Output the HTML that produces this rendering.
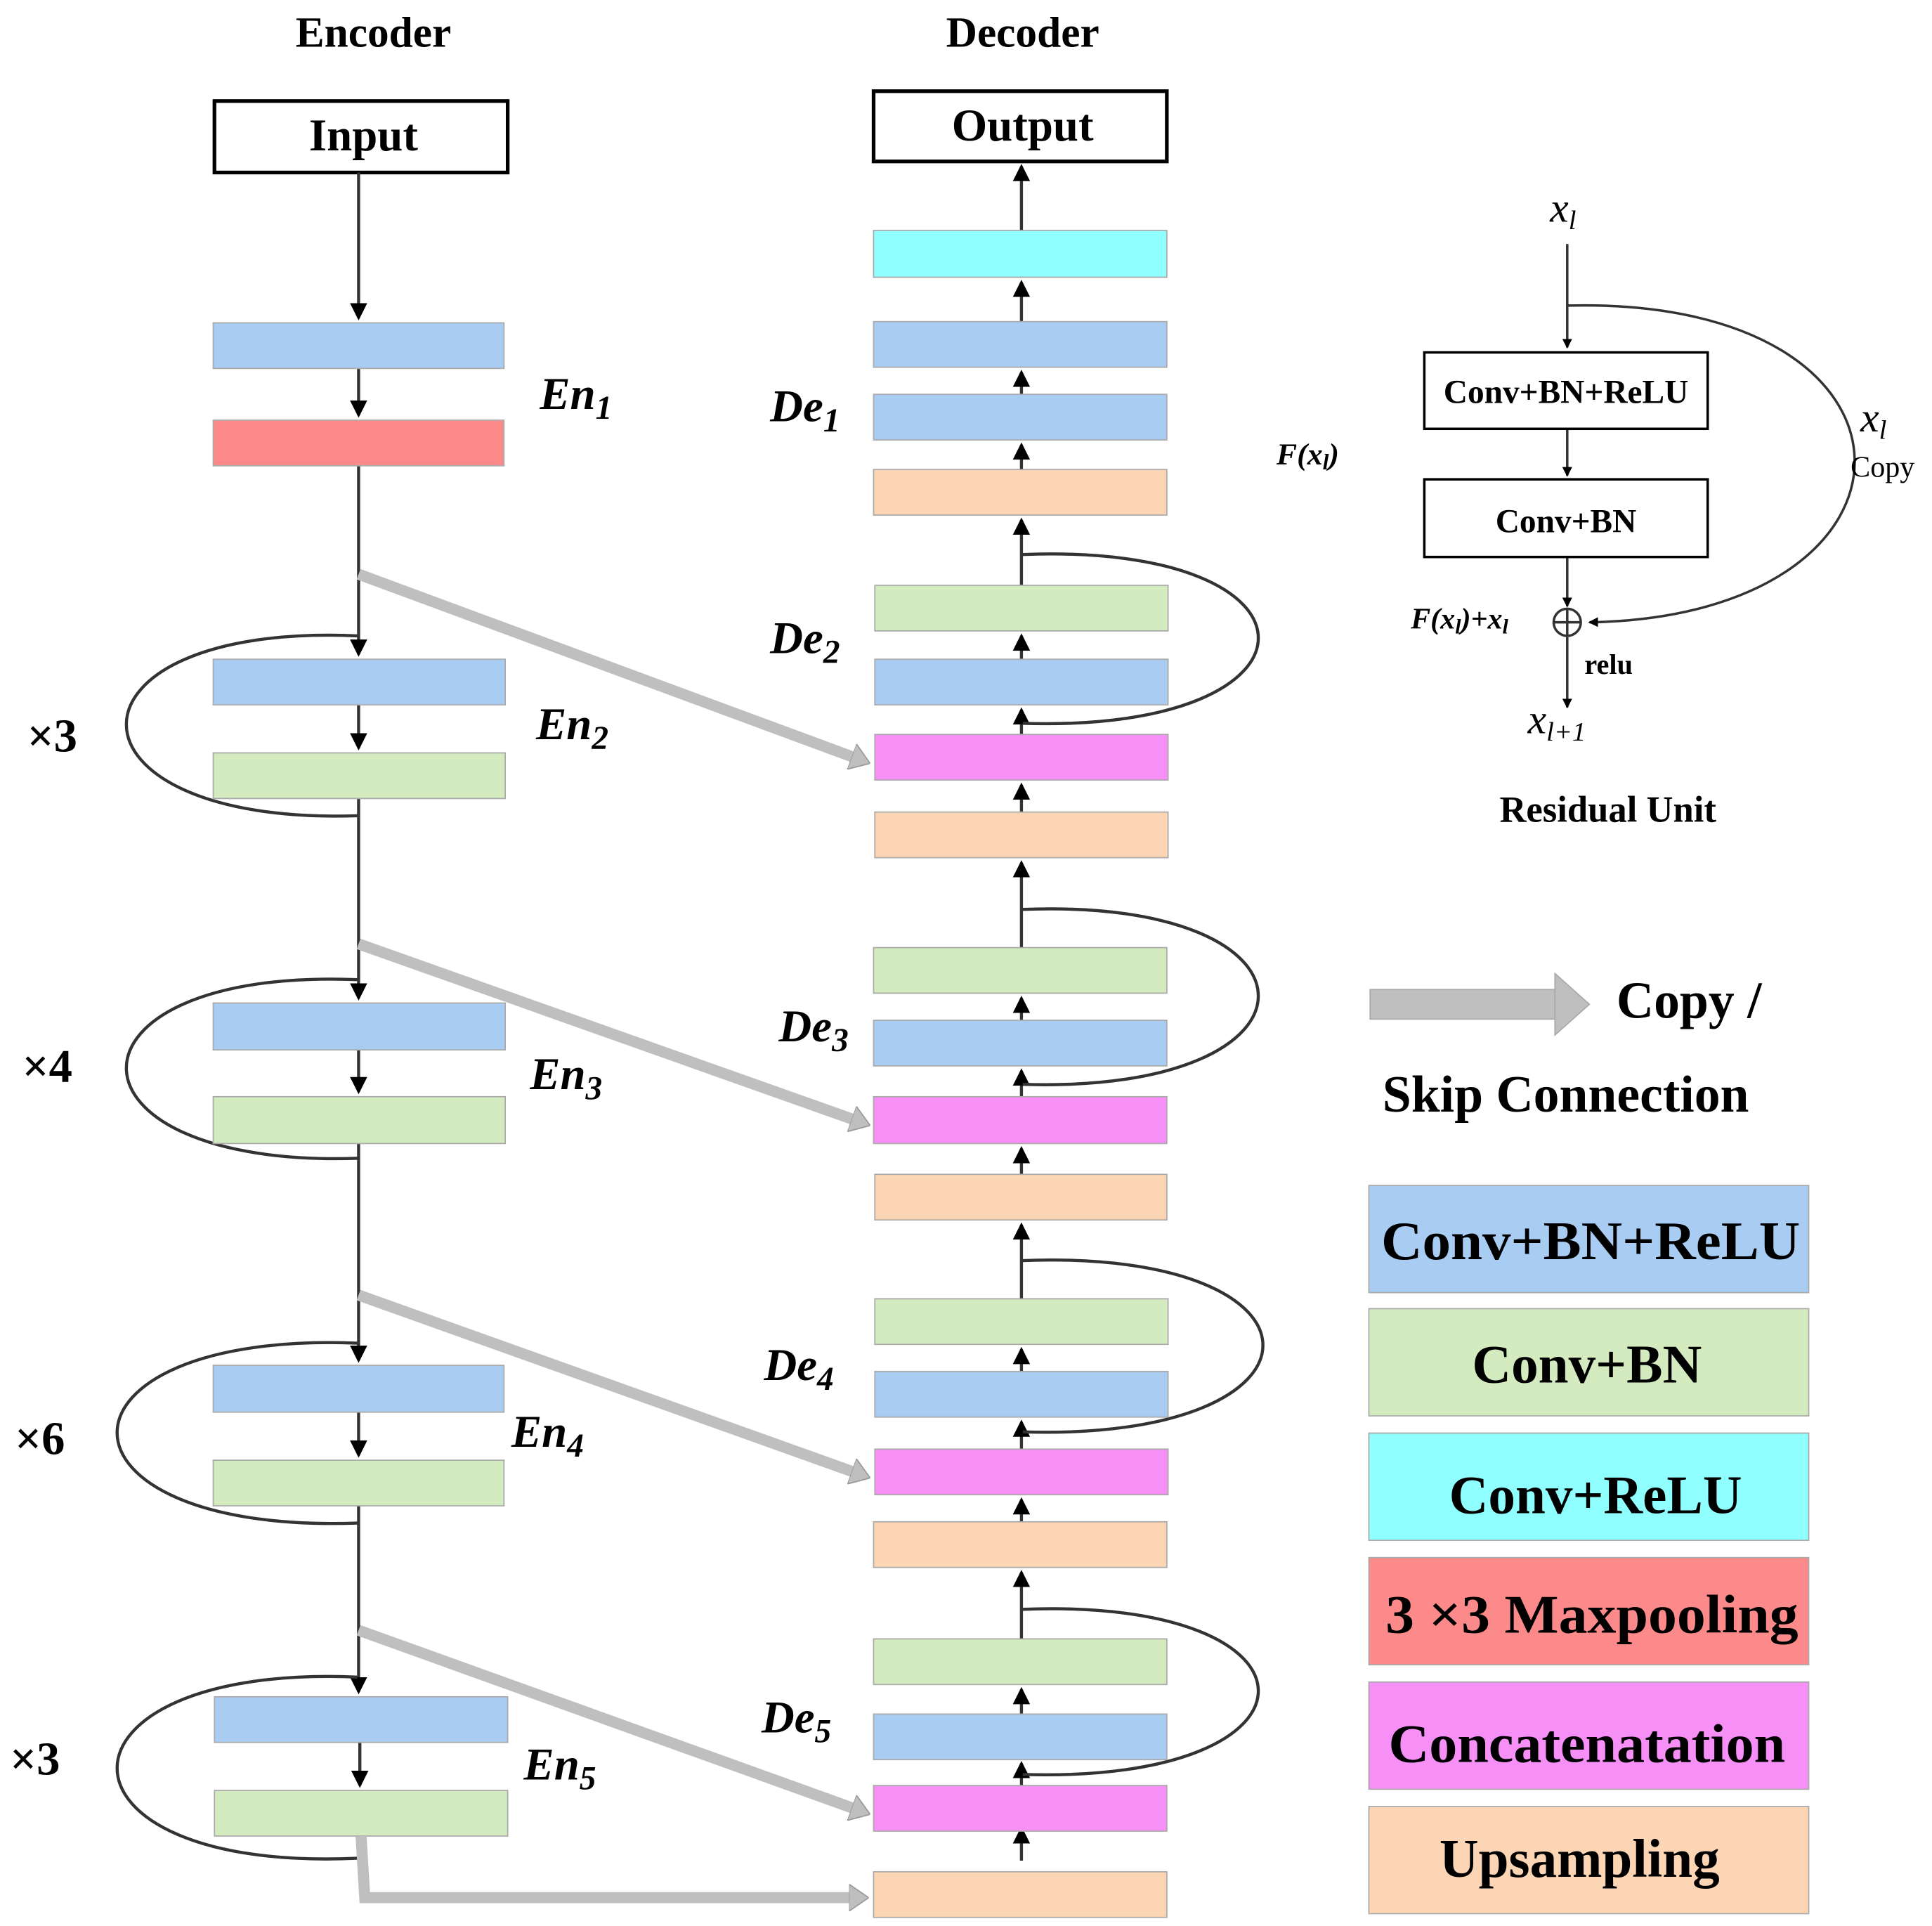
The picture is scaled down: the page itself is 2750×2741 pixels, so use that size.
<!DOCTYPE html>
<html><head><meta charset="utf-8"><style>html,body{margin:0;padding:0;background:#fff}svg{display:block}</style></head><body>
<svg width="2750" height="2741" viewBox="0 0 1568 1563" xmlns="http://www.w3.org/2000/svg" font-family="Liberation Serif, serif">
<defs>
<marker id="ah" markerWidth="8" markerHeight="8" refX="7" refY="4" orient="auto" markerUnits="userSpaceOnUse"><path d="M0,0 L8,4 L0,8 z" fill="#000"/></marker>
<marker id="ah2" markerWidth="14" markerHeight="14" refX="12" refY="7" orient="auto" markerUnits="userSpaceOnUse"><path d="M0,0 L14,7 L0,14 z" fill="#000"/></marker>
<marker id="gh" markerWidth="16" markerHeight="22" refX="3" refY="11" orient="auto" markerUnits="userSpaceOnUse"><path d="M0,0 L16,11 L0,22 z" fill="#bfbfbf" stroke="#999" stroke-width="1"/></marker>
</defs>
<g font-weight="bold" font-size="35" text-anchor="middle">
<text x="303" y="38">Encoder</text><text x="830" y="38">Decoder</text>
</g>
<rect x="174" y="82" width="238" height="58" fill="#fff" stroke="#000" stroke-width="3"/>
<text x="295" y="122" font-size="37" font-weight="bold" text-anchor="middle">Input</text>
<rect x="709" y="74" width="238" height="57" fill="#fff" stroke="#000" stroke-width="3"/>
<text x="830" y="114" font-size="37" font-weight="bold" text-anchor="middle">Output</text>

<g stroke="#333" stroke-width="2.5" fill="none">
<line x1="291" y1="140" x2="291" y2="258" marker-end="url(#ah2)"/>
<line x1="291" y1="299" x2="291" y2="337" marker-end="url(#ah2)"/>
<line x1="291" y1="378" x2="291" y2="531" marker-end="url(#ah2)"/>
<line x1="291" y1="572" x2="291" y2="607" marker-end="url(#ah2)"/>
<line x1="291" y1="648" x2="291" y2="810" marker-end="url(#ah2)"/>
<line x1="291" y1="852" x2="291" y2="886" marker-end="url(#ah2)"/>
<line x1="291" y1="928" x2="291" y2="1104" marker-end="url(#ah2)"/>
<line x1="291" y1="1146" x2="291" y2="1181" marker-end="url(#ah2)"/>
<line x1="291" y1="1222" x2="291" y2="1373" marker-end="url(#ah2)"/>
<line x1="292" y1="1414" x2="292" y2="1449" marker-end="url(#ah2)"/>
<path d="M290,516 C40,505 40,670 290,662"/>
<path d="M290,795 C40,785 40,948 290,940"/>
<path d="M290,1090 C30,1080 30,1245 290,1236"/>
<path d="M290,1361 C30,1350 30,1520 290,1508"/>
<line x1="829" y1="1510" x2="829" y2="1484" marker-end="url(#ah2)"/>
<line x1="829" y1="1449" x2="829" y2="1431" marker-end="url(#ah2)"/>
<line x1="829" y1="1391" x2="829" y2="1371" marker-end="url(#ah2)"/>
<line x1="829" y1="1330" x2="829" y2="1276" marker-end="url(#ah2)"/>
<line x1="829" y1="1235" x2="829" y2="1217" marker-end="url(#ah2)"/>
<line x1="829" y1="1176" x2="829" y2="1154" marker-end="url(#ah2)"/>
<line x1="829" y1="1113" x2="829" y2="1095" marker-end="url(#ah2)"/>
<line x1="829" y1="1054" x2="829" y2="994" marker-end="url(#ah2)"/>
<line x1="829" y1="953" x2="829" y2="932" marker-end="url(#ah2)"/>
<line x1="829" y1="890" x2="829" y2="869" marker-end="url(#ah2)"/>
<line x1="829" y1="828" x2="829" y2="810" marker-end="url(#ah2)"/>
<line x1="829" y1="769" x2="829" y2="700" marker-end="url(#ah2)"/>
<line x1="829" y1="659" x2="829" y2="637" marker-end="url(#ah2)"/>
<line x1="829" y1="596" x2="829" y2="576" marker-end="url(#ah2)"/>
<line x1="829" y1="535" x2="829" y2="516" marker-end="url(#ah2)"/>
<line x1="829" y1="475" x2="829" y2="422" marker-end="url(#ah2)"/>
<line x1="829" y1="381" x2="829" y2="361" marker-end="url(#ah2)"/>
<line x1="829" y1="320" x2="829" y2="302" marker-end="url(#ah2)"/>
<line x1="829" y1="261" x2="829" y2="229" marker-end="url(#ah2)"/>
<line x1="829" y1="187" x2="829" y2="135" marker-end="url(#ah2)"/>
<path d="M830,450 C1085,440 1085,595 830,587"/>
<path d="M830,738 C1085,728 1085,888 830,880"/>
<path d="M830,1023 C1090,1013 1090,1170 830,1162"/>
<path d="M830,1306 C1085,1296 1085,1448 830,1440"/>
</g>

<g stroke="#aaa" stroke-width="1">
<rect x="173" y="262" width="236" height="37" fill="#a9cdf2"/>
<rect x="173" y="341" width="236" height="37" fill="#fc8a8a"/>
<rect x="173" y="535" width="237" height="37" fill="#a9cdf2"/>
<rect x="173" y="611" width="237" height="37" fill="#d3ebbf"/>
<rect x="173" y="814" width="237" height="38" fill="#a9cdf2"/>
<rect x="173" y="890" width="237" height="38" fill="#d3ebbf"/>
<rect x="173" y="1108" width="236" height="38" fill="#a9cdf2"/>
<rect x="173" y="1185" width="236" height="37" fill="#d3ebbf"/>
<rect x="174" y="1377" width="238" height="37" fill="#a9cdf2"/>
<rect x="174" y="1453" width="238" height="37" fill="#d3ebbf"/>
<rect x="709" y="187" width="238" height="38" fill="#8fffff"/>
<rect x="709" y="261" width="238" height="37" fill="#a9cdf2"/>
<rect x="709" y="320" width="238" height="37" fill="#a9cdf2"/>
<rect x="709" y="381" width="238" height="37" fill="#fcd5b4"/>
<rect x="710" y="475" width="238" height="37" fill="#d3ebbf"/>
<rect x="710" y="535" width="238" height="37" fill="#a9cdf2"/>
<rect x="710" y="596" width="238" height="37" fill="#f68ff6"/>
<rect x="710" y="659" width="238" height="37" fill="#fcd5b4"/>
<rect x="709" y="769" width="238" height="37" fill="#d3ebbf"/>
<rect x="709" y="828" width="238" height="37" fill="#a9cdf2"/>
<rect x="709" y="890" width="238" height="38" fill="#f68ff6"/>
<rect x="710" y="953" width="237" height="37" fill="#fcd5b4"/>
<rect x="710" y="1054" width="238" height="37" fill="#d3ebbf"/>
<rect x="710" y="1113" width="238" height="37" fill="#a9cdf2"/>
<rect x="710" y="1176" width="238" height="37" fill="#f68ff6"/>
<rect x="709" y="1235" width="238" height="37" fill="#fcd5b4"/>
<rect x="709" y="1330" width="238" height="37" fill="#d3ebbf"/>
<rect x="709" y="1391" width="238" height="37" fill="#a9cdf2"/>
<rect x="709" y="1449" width="238" height="37" fill="#f68ff6"/>
<rect x="709" y="1519" width="238" height="37" fill="#fcd5b4"/>
</g>

<g stroke="#bfbfbf" stroke-width="9" fill="none" marker-end="url(#gh)">
<line x1="291" y1="466" x2="694" y2="615"/>
<line x1="291" y1="766" x2="694" y2="909"/>
<line x1="291" y1="1051" x2="694" y2="1195"/>
<line x1="291" y1="1323" x2="694" y2="1468"/>
<polyline points="293,1490 296,1540 692,1540"/>
</g>
<rect x="1112" y="803" width="152" height="24" fill="#bfbfbf" stroke="#aaa" stroke-width="1"/>
<path d="M1262,790 L1290,815 L1262,840 z" fill="#bfbfbf" stroke="#aaa" stroke-width="1"/>

<g font-weight="bold" font-style="italic" font-size="37">
<text x="438" y="332">En<tspan font-size="27" dy="8">1</tspan></text>
<text x="435" y="600">En<tspan font-size="27" dy="8">2</tspan></text>
<text x="430" y="884">En<tspan font-size="27" dy="8">3</tspan></text>
<text x="415" y="1174">En<tspan font-size="27" dy="8">4</tspan></text>
<text x="425" y="1444">En<tspan font-size="27" dy="8">5</tspan></text>
<text x="625" y="342">De<tspan font-size="27" dy="8">1</tspan></text>
<text x="625" y="530">De<tspan font-size="27" dy="8">2</tspan></text>
<text x="632" y="845">De<tspan font-size="27" dy="8">3</tspan></text>
<text x="620" y="1120">De<tspan font-size="27" dy="8">4</tspan></text>
<text x="618" y="1406">De<tspan font-size="27" dy="8">5</tspan></text>
</g>
<g font-weight="bold" font-size="38">
<text x="22" y="610">×3</text><text x="18" y="878">×4</text>
<text x="12" y="1180">×6</text><text x="8" y="1440">×3</text>
</g>

<g stroke="#333" stroke-width="2" fill="none">
<line x1="1272" y1="198" x2="1272" y2="282" marker-end="url(#ah)"/>
<line x1="1272" y1="348" x2="1272" y2="386" marker-end="url(#ah)"/>
<line x1="1272" y1="452" x2="1272" y2="492" marker-end="url(#ah)"/>
<line x1="1272" y1="517" x2="1272" y2="574" marker-end="url(#ah)"/>
<path d="M1272,248 C1580,240 1580,500 1290,505" marker-end="url(#ah)"/>
<circle cx="1272" cy="505" r="11"/>
<line x1="1261" y1="505" x2="1283" y2="505"/><line x1="1272" y1="494" x2="1272" y2="516"/>
</g>
<rect x="1156" y="286" width="230" height="62" fill="#fff" stroke="#000" stroke-width="2"/>
<rect x="1156" y="389" width="230" height="63" fill="#fff" stroke="#000" stroke-width="2"/>
<g font-weight="bold" text-anchor="middle">
<text x="1271" y="327" font-size="27">Conv+BN+ReLU</text>
<text x="1271" y="432" font-size="27">Conv+BN</text>
<text x="1305" y="667" font-size="30">Residual Unit</text>
</g>
<g font-style="italic" font-size="34">
<text x="1258" y="180">x<tspan font-size="22" dy="6">l</tspan></text>
<text x="1510" y="350">x<tspan font-size="22" dy="6">l</tspan></text>
<text x="1240" y="595">x<tspan font-size="22" dy="6">l+1</tspan></text>
</g>
<text x="1502" y="387" font-size="24">Copy</text>
<text x="1036" y="377" font-size="25" font-weight="bold" font-style="italic">F(x<tspan font-size="18" dy="4">l</tspan><tspan dy="-4">)</tspan></text>
<text x="1145" y="510" font-size="24" font-weight="bold" font-style="italic">F(x<tspan font-size="17" dy="4">l</tspan><tspan dy="-4">)+x</tspan><tspan font-size="17" dy="4">l</tspan></text>
<text x="1286" y="547" font-size="23" font-weight="bold">relu</text>

<g font-weight="bold" font-size="42">
<text x="1312" y="826">Copy /</text>
<text x="1122" y="902">Skip Connection</text>
</g>
<g stroke="#aaa" stroke-width="1">
<rect x="1111" y="962" width="357" height="87" fill="#a9cdf2"/>
<rect x="1111" y="1062" width="357" height="87" fill="#d3ebbf"/>
<rect x="1111" y="1163" width="357" height="87" fill="#8fffff"/>
<rect x="1111" y="1264" width="357" height="87" fill="#fc8a8a"/>
<rect x="1111" y="1365" width="357" height="87" fill="#f68ff6"/>
<rect x="1111" y="1466" width="357" height="87" fill="#fcd5b4"/>
</g>
<g font-weight="bold" font-size="44" text-anchor="middle">
<text x="1291" y="1022" textLength="340" lengthAdjust="spacingAndGlyphs">Conv+BN+ReLU</text>
<text x="1288" y="1122">Conv+BN</text>
<text x="1295" y="1228">Conv+ReLU</text>
<text x="1292" y="1325" textLength="335" lengthAdjust="spacingAndGlyphs">3 ×3 Maxpooling</text>
<text x="1288" y="1430" textLength="322" lengthAdjust="spacingAndGlyphs">Concatenatation</text>
<text x="1282" y="1523">Upsampling</text>
</g>
</svg>
</body></html>
